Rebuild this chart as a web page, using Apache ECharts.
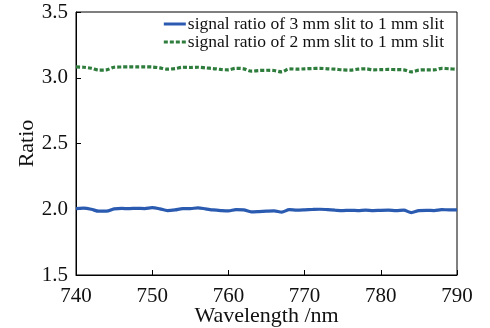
<!DOCTYPE html>
<html>
<head>
<meta charset="utf-8">
<script src="https://cdn.jsdelivr.net/npm/echarts@6/dist/echarts.min.js"></script>
<style>html,body{margin:0;padding:0;background:#fff;}#c{width:490px;height:328px;}</style>
</head>
<body>
<div id="c"></div>
<script>
var wavelengths = [];
for (var w = 740; w <= 790; w++) wavelengths.push(w);
var ratio3to1 = [2.005,2.008,2.000,1.985,1.985,2.003,2.006,2.005,2.007,2.005,2.012,2.003,1.990,1.995,2.005,2.005,2.010,2.003,1.995,1.990,1.987,1.997,1.995,1.980,1.982,1.985,1.987,1.978,1.997,1.993,1.995,1.998,2.000,1.997,1.993,1.990,1.992,1.990,1.993,1.990,1.992,1.993,1.990,1.993,1.975,1.990,1.992,1.990,1.997,1.995,1.995];
var ratio2to1 = [3.082,3.080,3.072,3.058,3.060,3.080,3.082,3.083,3.082,3.083,3.082,3.075,3.065,3.070,3.080,3.078,3.080,3.075,3.070,3.063,3.060,3.072,3.068,3.050,3.055,3.057,3.055,3.045,3.068,3.065,3.068,3.070,3.072,3.068,3.065,3.060,3.058,3.065,3.068,3.060,3.062,3.063,3.062,3.060,3.045,3.058,3.060,3.060,3.072,3.068,3.065];
var seriesNames = ['signal ratio of 3 mm slit to 1 mm slit','signal ratio of 2 mm slit to 1 mm slit'];
var xTicks = [740,750,760,770,780,790];
var yTicks = [1.5,2.0,2.5,3.0,3.5];

function pairs(xs, ys){ return xs.map(function(x,i){return [x, ys[i]];}); }
var font = 'Liberation Serif';
var chart = echarts.init(document.getElementById('c'), null, {renderer:'canvas'});
chart.setOption({
  animation:false,
  grid:{left:76,right:33,top:12,bottom:53,show:true,borderColor:'#000',borderWidth:1,backgroundColor:'transparent',containLabel:false,outerBoundsMode:'none'},
  legend:{
    orient:'vertical', right:46, top:15, padding:0, itemGap:0,
    itemWidth:22, itemHeight:10,
    textStyle:{fontFamily:font,fontSize:17.5,lineHeight:18,color:'#111',padding:[0,0,0,-3]},
    data:[{name:seriesNames[0],icon:'path://M0,0 L22,0 L22,3 L0,3 Z'},{name:seriesNames[1],icon:'path://M0,0 L4,0 L4,3 L0,3 Z M6,0 L10,0 L10,3 L6,3 Z M12,0 L16,0 L16,3 L12,3 Z M18,0 L22,0 L22,3 L18,3 Z'}]
  },
  xAxis:{
    type:'value', min:xTicks[0], max:xTicks[xTicks.length-1], interval:10,
    name:'Wavelength /nm', nameLocation:'middle', nameGap:30, nameMoveOverlap:false,
    nameTextStyle:{fontFamily:font,fontSize:22,color:'#111'},
    axisLine:{show:true,lineStyle:{color:'#000',width:1}},
    axisTick:{show:true,inside:true,length:5,lineStyle:{color:'#000'}},
    axisLabel:{fontFamily:font,fontSize:21,color:'#111',margin:11},
    splitLine:{show:false}
  },
  yAxis:{
    type:'value', min:yTicks[0], max:yTicks[yTicks.length-1], interval:0.5,
    name:'Ratio', nameLocation:'middle', nameGap:38, nameMoveOverlap:false,
    nameTextStyle:{fontFamily:font,fontSize:22,color:'#111'},
    axisLine:{show:true,lineStyle:{color:'#000',width:1}},
    axisTick:{show:true,inside:true,length:5,lineStyle:{color:'#000'}},
    axisLabel:{fontFamily:font,fontSize:21,color:'#111',margin:8,formatter:function(v){return v.toFixed(1);}},
    splitLine:{show:false}
  },
  series:[
    {name:seriesNames[0],type:'line',data:pairs(wavelengths,ratio3to1),showSymbol:false,smooth:0.3,
     color:'#2a5bb0',lineStyle:{width:3.2,color:'#2a5bb0'}},
    {name:seriesNames[1],type:'line',data:pairs(wavelengths,ratio2to1),showSymbol:false,smooth:0.3,
     color:'#2e7d3c',lineStyle:{width:3.2,color:'#2e7d3c',type:[4,2]}}
  ]
});
</script>
</body>
</html>
